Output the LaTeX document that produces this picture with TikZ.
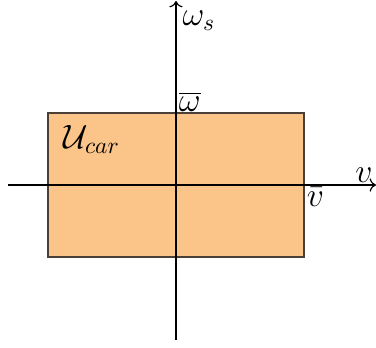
\documentclass[tikz,border=0pt]{standalone}
\usepackage{xcolor}
\definecolor{setfill}{HTML}{FBC488}
\definecolor{setdraw}{HTML}{4A4038}
\usepackage{tikz}
\usetikzlibrary{arrows.meta, positioning}
\tikzset{
  setbox/.style ={draw=setdraw, line width=0.5pt, fill=setfill},
  axisline/.style={->, line width=0.5pt, color=black},
  axlbl/.style   ={font=\Large, inner sep=1pt},
}

\begin{document}
\begin{tikzpicture}[x=0.015cm, y=0.015cm]
  \useasboundingbox (-176,-162) rectangle (200,185);
  % admissible input set
  \draw[setbox] (-128,-72) rectangle (128,72);
  \coordinate (xstart) at (-168,0);
  \coordinate (xend)   at (200,0);
  \coordinate (ystart) at (0,-155);
  \coordinate (yend)   at (0,184);
  \draw[axisline] (xstart) -- (xend);
  \draw[axisline] (ystart) -- (yend);
  \node[axlbl] (wslbl) at (23,164) {$\omega_s$};
  \node[axlbl, anchor=south west] (wbar) at (0,71) {$\overline{\omega}$};
  \node[axlbl] (ucar) at (-84,46) {$\mathcal{U}_{car}$};
  \node[axlbl] (vlbl) at (188,10) {$v$};
  \node[axlbl, anchor=north west] (vbar) at (128,0) {$\bar{v}$};
\end{tikzpicture}
\end{document}
